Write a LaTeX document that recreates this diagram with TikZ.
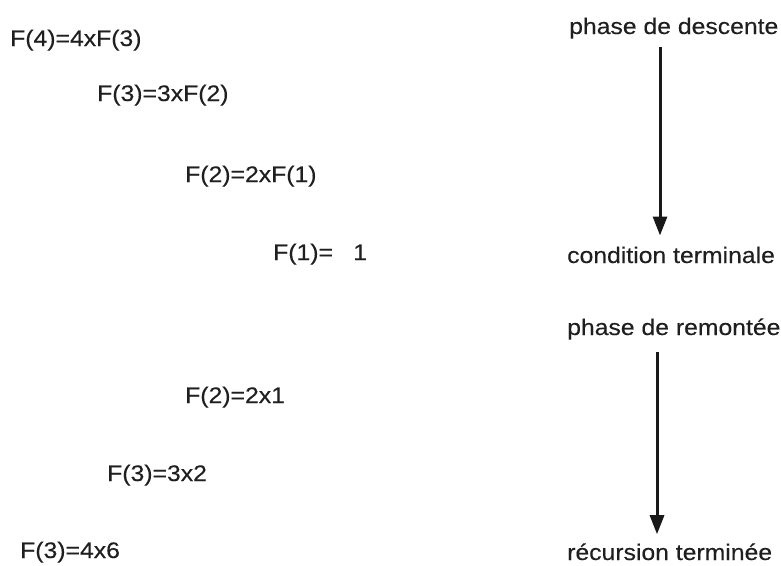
\documentclass[tikz,border=0pt]{standalone}
\usepackage{fontspec}
\newfontfamily\lblfont[FakeStretch=1.1,UprightFeatures={FakeBold=0.3}]{Liberation Sans}
\usetikzlibrary{arrows.meta}
\begin{document}
\begin{tikzpicture}[x=1pt,y=-1pt,
  lbl/.style={inner sep=0pt,anchor=base west,font=\lblfont\fontsize{22.5}{26}\selectfont,text=black!88},
  arr/.style={line width=3pt,draw=black!90,-{Triangle[length=19pt,width=14pt]}}]
\useasboundingbox (0,0) rectangle (781,565);
% left column
\node[lbl] (f4)  at (10,46)  {F(4)=4xF(3)};
\node[lbl] (f3)  at (97,101) {F(3)=3xF(2)};
\node[lbl] (f2)  at (185,182) {F(2)=2xF(1)};
\node[lbl] (f1)  at (273,260) {F(1)=\hspace{0.9em}1};
\node[lbl] (g2)  at (185,403) {F(2)=2x1};
\node[lbl] (g3)  at (107,481) {F(3)=3x2};
\node[lbl] (g4)  at (20,558)  {F(3)=4x6};
% right column
\node[lbl] (desc) at (569,34)  {phase de descente};
\node[lbl] (cond) at (567,263) {condition terminale};
\node[lbl] (rem)  at (567,335) {phase de remontée};
\node[lbl] (rec)  at (567,560) {récursion terminée};
\coordinate (ax1) at (660,0);
\coordinate (ax2) at (657,0);
\draw[arr,shorten <=8pt,shorten >=11pt] (desc.south -| ax1) -- (cond.north -| ax1);
\draw[arr,shorten <=12pt,shorten >=9pt] (rem.south -| ax2) -- (rec.north -| ax2);
\end{tikzpicture}
\end{document}
